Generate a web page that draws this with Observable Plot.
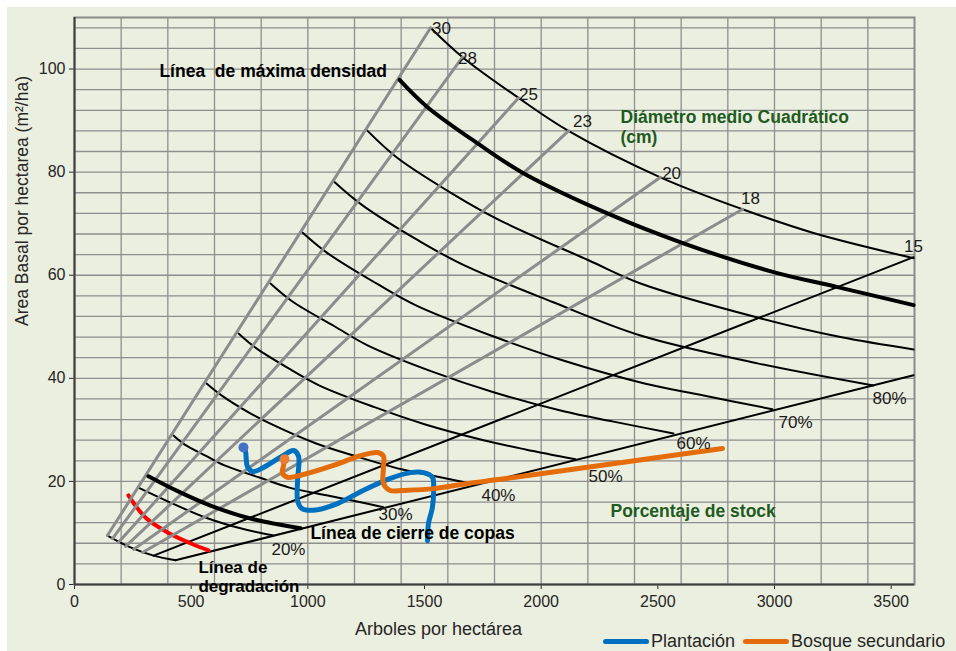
<!DOCTYPE html>
<html>
<head>
<meta charset="utf-8">
<script src="https://cdn.jsdelivr.net/npm/d3@7"></script>
<script src="https://cdn.jsdelivr.net/npm/@observablehq/plot@0.6"></script>
<style>
  body { margin: 0; background: #ffffff; font-family: "Liberation Sans", Arial, sans-serif; }
  #wrap { position: relative; width: 956px; height: 651px; overflow: hidden; }
  #bg { position: absolute; left: 7px; top: 7px; right: 0; bottom: 0; background: #ebefdf; }
  #chart { position: absolute; left: 0; top: 0; }
  #legend { position: absolute; left: 603px; top: 630px; font-size: 18px; line-height: 22px; color: #262626; white-space: nowrap; }
  #legend .sw { display: inline-block; width: 46px; height: 5px; border-radius: 3px; vertical-align: middle; margin-right: 2px; position: relative; top: -1px; }
</style>
</head>
<body>
<div id="wrap">
  <div id="bg"></div>
  <div id="chart"></div>
  <div id="legend"><span class="sw" style="background:#0070c0"></span>Plantación<span class="sw" style="background:#e46c0a;margin-left:8px"></span>Bosque secundario</div>
</div>
<script>
// Axis ticks and grid (trees per hectare, basal area m²/ha)
const xTicks = [0, 500, 1000, 1500, 2000, 2500, 3000, 3500];
const yTicks = [0, 20, 40, 60, 80, 100];
const xGrid = [200, 400, 600, 800, 1000, 1200, 1400, 1600, 1800, 2000, 2200, 2400, 2600, 2800, 3000, 3200, 3400];
const yGrid = [4, 8, 12, 16, 20, 24, 28, 32, 36, 40, 44, 48, 52, 56, 60, 64, 68, 72, 76, 80, 84, 88, 92, 96, 100, 104, 108];

// Quadratic mean diameter lines (cm): start and end [N, BA]
const diameters = [30, 28, 25, 23, 20, 18];
const diamStart = [[141, 9.5], [163, 8.9], [189, 8.2], [219, 7.4], [253, 6.8], [291, 6.2]];
const diamEnd = [[1526, 108.0], [1663, 102.3], [1903, 94.4], [2117, 88.0], [2511, 79.0], [2863, 72.8]];
const diam15 = [[339, 5.6], [3596, 63.5]];
const diameterLabels = ["30", "28", "25", "23", "20", "18", "15"];

// Stocking curves [N, BA]
const maxDensity = [[1526, 108.0], [1663, 102.3], [1903, 94.4], [2117, 88.0], [2511, 79.0], [2863, 72.8], [3167, 68.2], [3596, 63.3]];
const upperStock = [[1393, 97.9], [1513, 92.6], [1740, 85.2], [1924, 79.8], [2284, 72.0], [2610, 66.2], [2996, 60.6], [3270, 57.7], [3596, 54.2]];
const stock90 = [[1256, 88.0], [1380, 82.9], [1624, 75.7], [1821, 70.7], [2203, 62.9], [2426, 58.4], [2927, 51.8], [3283, 48.0], [3596, 45.6]];
const stock80 = [[1114, 78.1], [1239, 73.4], [1479, 66.6], [1671, 61.9], [2049, 54.8], [2426, 48.3], [2927, 42.9], [3424, 38.6]];
const stock70 = [[977, 68.3], [1084, 64.3], [1294, 58.4], [1461, 54.2], [1791, 48.2], [2091, 43.5], [2443, 39.0], [2691, 36.7], [2991, 34.0]];
const stock60 = [[840, 58.4], [934, 54.9], [1114, 50.1], [1256, 46.4], [1539, 41.2], [1796, 37.3], [2096, 33.6], [2310, 31.6], [2567, 29.3]];
const stock50 = [[703, 48.7], [780, 45.8], [930, 41.6], [1050, 38.6], [1286, 34.4], [1500, 31.1], [1753, 28.0], [1933, 26.2], [2147, 24.3]];
const stock40 = [[566, 39.0], [630, 36.7], [746, 33.4], [844, 31.1], [1033, 27.4], [1204, 24.9], [1406, 22.3], [1547, 21.0], [1719, 19.4]];
const stock30 = [[424, 28.9], [471, 27.2], [566, 24.9], [643, 23.1], [789, 20.8], [921, 18.8], [1080, 17.3], [1191, 16.3], [1324, 15.0]];
const crownClosure = [[317, 21.0], [433, 18.3], [583, 15.3], [754, 12.8], [969, 10.9]];
const stock20 = [[274, 18.8], [411, 15.9], [561, 13.0], [711, 10.9], [853, 9.5]];
const degradation = [[231, 17.3], [304, 13.0], [399, 10.1], [497, 8.0], [574, 6.6]];
const stockBoundary = [[433, 4.7], [3596, 40.6]];
const baseArc = [[141, 9.5], [240, 7.2], [339, 5.6], [433, 4.7]];
const stockLabels = ["20%", "30%", "40%", "50%", "60%", "70%", "80%"];

// Stand trajectories [N, BA]
const plantacion = [[724, 26.6], [733, 25.8], [741, 22.9], [763, 21.9], [810, 22.7], [883, 24.7], [939, 26.0], [960, 24.9], [956, 20.2], [956, 16.3], [973, 14.8], [1024, 14.4], [1127, 15.7], [1239, 18.3], [1354, 20.6], [1440, 21.7], [1496, 21.7], [1534, 20.8], [1539, 18.8], [1534, 15.0], [1517, 11.8], [1513, 8.5]];
const bosqueSecundario = [[900, 24.3], [896, 23.1], [891, 21.6], [913, 20.8], [969, 21.2], [1110, 23.1], [1226, 25.0], [1299, 25.6], [1324, 24.9], [1324, 22.7], [1324, 19.6], [1350, 18.3], [1427, 18.3], [1539, 18.6], [1684, 19.6], [1826, 20.4], [2777, 26.4]];

const diamLines = diameters.map((d, i) => [diamStart[i], diamEnd[i]]);
const thinCurves = [maxDensity, stock90, stock80, stock70, stock60, stock50, stock40, stock30, stock20];
const diamLabelAt = [[1573, 107.8], [1684, 102.1], [1946, 95.1], [2177, 89.9], [2559, 79.8], [2897, 74.9], [3596, 65.6]];
const stockLabelAt = [[917, 6.8], [1376, 13.6], [1817, 17.3], [2276, 21.0], [2653, 27.4], [3090, 31.5], [3493, 36.1]];

const darkGreen = "#1f5a1f";

const chart = Plot.plot({
  width: 956,
  height: 651,
  marginLeft: 74,
  marginRight: 42,
  marginTop: 17,
  marginBottom: 67,
  style: { background: "transparent", fontFamily: "Liberation Sans, Arial, sans-serif", fontSize: "16px", color: "#262626", overflow: "visible" },
  x: { domain: [0, 3600], ticks: xTicks, tickSize: 5, tickPadding: 6, tickFormat: d => String(d), label: null },
  y: { domain: [0, 110], ticks: yTicks, tickSize: 5, tickPadding: 4, tickFormat: d => String(d), label: null },
  marks: [
    Plot.ruleX(xGrid, { stroke: "#8e8e8e", strokeWidth: 1.3 }),
    Plot.ruleY(yGrid, { stroke: "#8e8e8e", strokeWidth: 1.3 }),
    Plot.frame({ stroke: "#8a8a8a", strokeWidth: 2 }),
    // stocking curves
    ...thinCurves.map(c => Plot.line(c, { curve: "catmull-rom", stroke: "#000", strokeWidth: 2 })),
    Plot.line(baseArc, { curve: "catmull-rom", stroke: "#000", strokeWidth: 2 }),
    Plot.line(stockBoundary, { stroke: "#000", strokeWidth: 2 }),
    Plot.line(diam15, { stroke: "#000", strokeWidth: 2 }),
    Plot.line(degradation, { curve: "catmull-rom", stroke: "#ff0000", strokeWidth: 4 }),
    // diameter lines
    ...diamLines.map(l => Plot.line(l, { stroke: "#8c8c8c", strokeWidth: 3 })),
    Plot.line(upperStock, { curve: "catmull-rom", stroke: "#000", strokeWidth: 4 }),
    Plot.line(crownClosure, { curve: "catmull-rom", stroke: "#000", strokeWidth: 4 }),
    // stand trajectories
    Plot.line(plantacion, { curve: "catmull-rom", stroke: "#0070c0", strokeWidth: 5, strokeLinecap: "round", strokeLinejoin: "round" }),
    Plot.line(bosqueSecundario, { curve: "catmull-rom", stroke: "#e46c0a", strokeWidth: 5, strokeLinecap: "round", strokeLinejoin: "round" }),
    Plot.dot([plantacion[0]], { r: 5, fill: "#4472c4", stroke: null }),
    Plot.dot([bosqueSecundario[0]], { r: 5, fill: "#ed7d31", stroke: null }),
    // axis lines
    Plot.ruleX([0], { stroke: "#404040", strokeWidth: 2 }),
    Plot.ruleY([0], { stroke: "#404040", strokeWidth: 2 }),
    // labels
    Plot.text(diameterLabels, { x: (d, i) => diamLabelAt[i][0], y: (d, i) => diamLabelAt[i][1], text: d => d, fontSize: 17, fill: "#1a1a1a" }),
    Plot.text(stockLabels, { x: (d, i) => stockLabelAt[i][0], y: (d, i) => stockLabelAt[i][1], text: d => d, fontSize: 17, fill: "#1a1a1a" }),
    Plot.text(["Línea  de máxima densidad"], { x: 364, y: 99.6, text: d => d, textAnchor: "start", fontSize: 17.5, fontWeight: "bold", fill: "#000" }),
    Plot.text(["Diámetro medio Cuadrático", "(cm)"], { x: 2340, y: (d, i) => [90.7, 86.8][i], text: d => d, textAnchor: "start", fontSize: 17.5, fontWeight: "bold", fill: darkGreen }),
    Plot.text(["Porcentaje de stock"], { x: 2297, y: 14.2, text: d => d, textAnchor: "start", fontSize: 17.5, fontWeight: "bold", fill: darkGreen }),
    Plot.text(["Línea de cierre de copas"], { x: 1011, y: 9.9, text: d => d, textAnchor: "start", fontSize: 17.5, fontWeight: "bold", fill: "#000" }),
    Plot.text(["Línea de", "degradación"], { x: 531, y: (d, i) => [3.3, -0.4][i], text: d => d, textAnchor: "start", fontSize: 17, fontWeight: "bold", fill: "#000" }),
    // axis titles
    Plot.text(["Arboles por hectárea"], { frameAnchor: "bottom", dx: -56, dy: 50, text: d => d, fontSize: 18, fill: "#262626" }),
    Plot.text(["Area Basal por hectarea (m²/ha)"], { frameAnchor: "left", dx: -52, dy: 25, rotate: -90, text: d => d, fontSize: 17.5, fill: "#262626" })
  ]
});
document.getElementById("chart").appendChild(chart);
</script>
</body>
</html>
